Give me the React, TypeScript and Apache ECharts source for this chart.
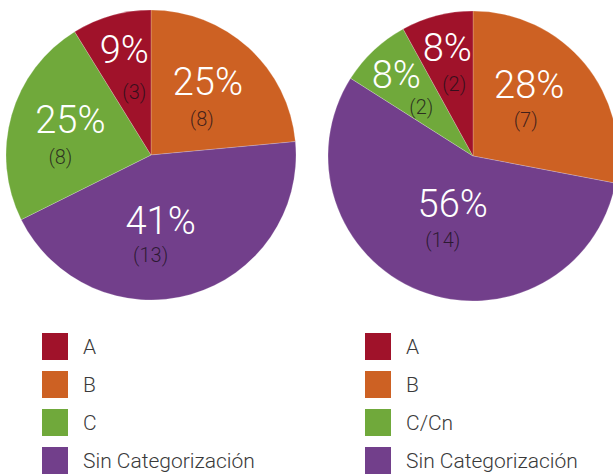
import React, { useEffect, useRef } from "react";
import * as echarts from "echarts";

// Category order as shown in the legends
const leftNames = ["A", "B", "C", "Sin Categorización"];
// slice sizes as drawn in the picture
const leftValues = [3, 8, 8, 15];
// counts printed in the labels
const leftLabelCounts = [3, 8, 8, 13];
const rightNames = ["A", "B", "C/Cn", "Sin Categorización"];
const rightValues = [2, 7, 2, 14];
const rightLabelCounts = [2, 7, 2, 14];
// clockwise from 12 o'clock: B, Sin Categorización, C, A
const sliceOrder = [1, 3, 2, 0];

const colors = ["#A0122A", "#CD6123", "#70A93B", "#723F8B"];

// label nudges (style), in slice order
const leftPctOff = [[6, -17], [-11, -7], [-8, -14], [-6, -32]];
const leftCntOff = [[0, 20], [-21, 27], [-18, 23], [4, 10]];
const rightPctOff = [[-2, -23], [7.5, -22], [-25, -26], [-7, -35]];
const rightCntOff = [[-5.5, 12], [-2.5, 14], [0, 6.5], [0, 1]];

const FONT = "Roboto";

function buildSeries(names: string[], values: number[], labelCounts: number[], center: number[], radius: number, pctOff: number[][], cntOff: number[][]) {
  const labelTotal = labelCounts.reduce((a, b) => a + b, 0);
  const main = {
    type: "pie",
    center,
    radius,
    startAngle: 90,
    clockwise: true,
    silent: true,
    data: sliceOrder.map((i) => ({
      name: names[i],
      value: values[i],
      itemStyle: { color: colors[i] },
    })),
    itemStyle: { borderColor: "rgba(255,255,255,0.35)", borderWidth: 0.6 },
    label: {
      show: true,
      position: "inside",
      formatter: (p: any) => Math.round((labelCounts[sliceOrder[p.dataIndex]] / labelTotal) * 100) + "%",
      color: "#ffffff",
      fontFamily: FONT,
      fontWeight: 300,
      fontSize: 38,
    },
    labelLine: { show: false },
    labelLayout: (p: any) => ({ dx: pctOff[p.dataIndex][0], dy: pctOff[p.dataIndex][1], hideOverlap: false }),
  };
  const counts = {
    type: "pie",
    center,
    radius,
    startAngle: 90,
    clockwise: true,
    silent: true,
    data: sliceOrder.map((i) => ({ value: values[i] })),
    itemStyle: { color: "transparent" },
    label: {
      show: true,
      position: "inside",
      formatter: (p: any) => "(" + labelCounts[sliceOrder[p.dataIndex]] + ")",
      color: "rgba(25,15,25,0.78)",
      fontFamily: FONT,
      fontWeight: 300,
      fontSize: 20,
    },
    labelLine: { show: false },
    labelLayout: (p: any) => ({ dx: cntOff[p.dataIndex][0], dy: cntOff[p.dataIndex][1], hideOverlap: false }),
  };
  return [main, counts];
}

function legend(names: string[], left: number) {
  return {
    type: "plain",
    orient: "vertical",
    left,
    top: 333,
    height: 220,
    padding: 0,
    icon: "rect",
    itemWidth: 26,
    itemHeight: 27,
    itemGap: 11,
    itemStyle: { borderWidth: 0 },
    selectedMode: false,
    data: names,
    textStyle: { fontFamily: FONT, fontWeight: 300, fontSize: 21, color: "#3a3a3a", padding: [0, 0, 0, 10] },
  };
}

export default function App() {
  const ref = useRef<HTMLDivElement>(null);
  useEffect(() => {
    document.body.style.margin = "0";
    const chart = echarts.init(ref.current!, null, { renderer: "svg" });
    const [lm, lc] = buildSeries(leftNames, leftValues, leftLabelCounts, [151, 155], 145, leftPctOff, leftCntOff);
    const [rm, rc] = buildSeries(rightNames, rightValues, rightLabelCounts, [473, 156], 145, rightPctOff, rightCntOff);
    chart.setOption({
      animation: false,
      backgroundColor: "#ffffff",
      legend: [legend(leftNames, 42), legend(rightNames, 365)],
      series: [lm, rm, lc, rc],
    });
    return () => chart.dispose();
  }, []);
  return <div ref={ref} style={{ width: 613, height: 474 }} />;
}
